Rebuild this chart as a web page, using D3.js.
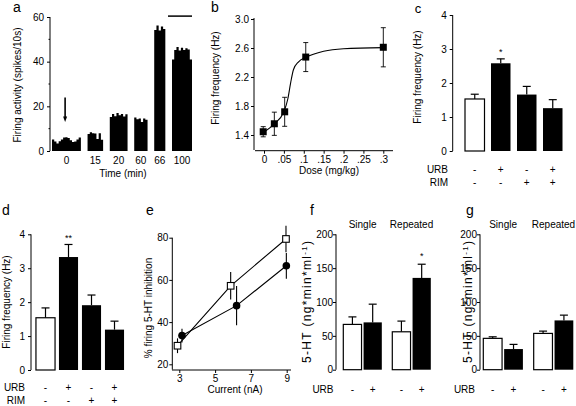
<!DOCTYPE html>
<html><head><meta charset="utf-8">
<script src="https://cdn.jsdelivr.net/npm/d3@7"></script>
<style>
body{margin:0;background:#fff}
svg{display:block}
text{font-family:"Liberation Sans",Arial,Helvetica,sans-serif;fill:#000}
</style>
</head><body><script>
// ---------------- DATA ----------------
// panel a: firing-rate histograms (spikes/10s), one array per time point
const aGroupLabels = ["0","15","20","60","66","100"];
const aBins0   = [5.2,4.2,3.4,4.4,5.2,6.0,6.2,5.8,4.8,4.0,4.2,5.2,6.0];
const aBins15  = [7.6,8.4,8.0,7.8,5.4,8.0,5.0];
const aBins20  = [15.2,16.6,15.6,17.0,16.0,16.6,15.4,16.4];
const aBins60  = [15.0,14.2,14.6,13.0,14.6,14.0];
const aBins66  = [54.2,56.2,54.0,55.8,54.6];
const aBins100 = [41.0,45.2,46.6,45.0,46.2,45.2,46.0,45.4,41.0];
const aYTicks = [0,20,40,60];
const aYMinor = [10,30,50];

// panel b: dose-response
const bDose  = [-0.002,0.026,0.052,0.105,0.3];
const bMean  = [1.445,1.555,1.72,2.475,2.61];
const bErr   = [0.07,0.16,0.2,0.2,0.27];
const bFitDose = [0,0.025,0.05,0.06,0.067,0.074,0.087,0.105,0.15,0.2,0.3];
const bFitVal  = [1.44,1.55,1.72,1.9,2.12,2.3,2.41,2.47,2.555,2.59,2.605];
const bXTicks = [0,0.05,0.1,0.15,0.2,0.25,0.3];
const bXTickLabels = ["0",".05",".1",".15",".2",".25",".3"];
const bYTicks = [1.4,1.8,2.2,2.6,3.0];

// panel c
const cMean = [1.53,2.58,1.66,1.26];
const cErr  = [0.14,0.13,0.24,0.25];
const cURB  = ["-","+","-","+"];
const cRIM  = ["-","-","+","+"];
const cFill = ["white","black","black","black"];
const cSig  = ["","*","",""];

// panel d
const dMean = [1.54,3.33,1.91,1.19];
const dErr  = [0.29,0.37,0.30,0.25];
const dURB  = ["-","+","-","+"];
const dRIM  = ["-","-","+","+"];
const dFill = ["white","black","black","black"];
const dSig  = ["","**","",""];

// panel e
const eSqX = [2.9,5.87,8.96],  eSqY = [28.8,57.2,79.4], eSqErr = [3.5,6.5,6.3];
const eCiX = [3.15,6.2,8.98],  eCiY = [33.6,47.8,66.7], eCiErr = [3.3,9.3,6.1];
const eXTicks = [3,5,7,9];
const eYTicks = [20,40,60,80];

// panel f / g
const fgGroups = ["Single","Repeated"];
const fgURB = ["-","+"];
const fMean = [[66.9,69.9],[56.0,135.6]];
const fErr  = [[11.1,26.9],[15.8,20.2]];
const fSig  = [["",""],["","*"]];
const gMean = [[46.3,30.5],[53.6,72.8]];
const gErr  = [[2.3,6.9],[3.4,7.8]];
const fgYTicks = [0,50,100,150,200];

// ---------------- DRAW ----------------
const svg = d3.select("body").append("svg").attr("width",576).attr("height",406);
const FS = 10;
function txt(g,x,y,s,anchor="middle",size=FS){
  return g.append("text").attr("x",x).attr("y",y).attr("text-anchor",anchor)
    .style("font-size",size+"px").text(s);
}
function rtxt(g,x,y,s,size=FS,len=null){
  const t = g.append("text").attr("transform",`translate(${x},${y}) rotate(-90)`)
    .attr("text-anchor","middle").style("font-size",size+"px").text(s);
  if(len) t.attr("textLength",len).attr("lengthAdjust","spacing");
  return t;
}
function vline(g,x,y1,y2,w=1){g.append("line").attr("x1",x).attr("x2",x).attr("y1",y1).attr("y2",y2).attr("stroke","#000").attr("stroke-width",w);}
function hline(g,x1,x2,y,w=1){g.append("line").attr("x1",x1).attr("x2",x2).attr("y1",y).attr("y2",y).attr("stroke","#000").attr("stroke-width",w);}
function styleAxis(ax){
  ax.select(".domain").remove();
  ax.selectAll("line").attr("stroke","#000");
  ax.selectAll("text").style("font-size",FS+"px").attr("fill","#000");
}
function leftAxis(g,x,scale,ticks,fmt,pad=2){
  const ax = g.append("g").attr("transform",`translate(${x},0)`)
    .call(d3.axisLeft(scale).tickValues(ticks).tickFormat(fmt).tickSize(3).tickPadding(pad));
  styleAxis(ax);
  return ax;
}
function bottomAxis(g,y,scale,ticks,fmt){
  const ax = g.append("g").attr("transform",`translate(0,${y})`)
    .call(d3.axisBottom(scale).tickValues(ticks).tickFormat(fmt).tickSize(3).tickPadding(2));
  styleAxis(ax);
  return ax;
}

// ===== Panel a =====
(function(){
  const g = svg.append("g");
  const groups = [aBins0,aBins15,aBins20,aBins60,aBins66,aBins100];
  const gap = 3; const starts=[]; let acc=0;
  groups.forEach(b=>{starts.push(acc); acc+=b.length+gap;});
  const total = acc-gap;
  const x = d3.scaleLinear().domain([0,total]).range([52,192]);
  const y = d3.scaleLinear().domain([0,60]).range([151,17]);
  const area = d3.area().curve(d3.curveStepAfter).x(d=>x(d[0])).y0(y(0)).y1(d=>y(d[1]));
  groups.forEach((b,i)=>{
    const pts = b.map((v,j)=>[starts[i]+j,v]); pts.push([starts[i]+b.length,b[b.length-1]]);
    g.append("path").attr("d",area(pts)).attr("fill","#000");
    txt(g,x(starts[i]+b.length/2),164,aGroupLabels[i]);
  });
  leftAxis(g,50,y,aYTicks,d3.format("d"),3);
  aYMinor.forEach(v=>hline(g,48.5,50,y(v)));
  vline(g,50,y(60),y(0));
  // arrow (drug injection)
  const ax = x(starts[0]+5.9);
  vline(g,ax,y(24),y(15),1.6);
  g.append("path").attr("d",`M${ax-2},${y(15.5)} L${ax+2},${y(15.5)} L${ax},${y(13)} Z`).attr("fill","#000");
  // horizontal bar
  hline(g,x(52.2),x(total),y(60.4),1.5);
  txt(g,123,177,"Time (min)");
  rtxt(g,21,85,"Firing activity (spikes/10s)");
  txt(g,17,12,"a","middle",14);
})();

// ===== Panel b =====
(function(){
  const g = svg.append("g");
  const x = d3.scaleLinear().domain([0,0.3]).range([264,383.3]);
  const y = d3.scaleLinear().domain([1.4,3.0]).range([135,19]);
  leftAxis(g,254,y,bYTicks,d3.format(".1f"));
  vline(g,254,18,150);
  bottomAxis(g,150.7,x,bXTicks,(d,i)=>bXTickLabels[i]);
  hline(g,255,393,150.7);
  const line = d3.line().curve(d3.curveMonotoneX).x((d,i)=>x(bFitDose[i])).y(d=>y(d));
  g.append("path").attr("d",line(bFitVal)).attr("fill","none").attr("stroke","#000").attr("stroke-width",1.1);
  bDose.forEach((d,i)=>{
    const cx=x(d);
    vline(g,cx,y(bMean[i]+bErr[i]),y(bMean[i]-bErr[i]),0.9);
    hline(g,cx-2.5,cx+2.5,y(bMean[i]+bErr[i]),0.9);
    hline(g,cx-2.5,cx+2.5,y(bMean[i]-bErr[i]),0.9);
    g.append("rect").attr("x",cx-3.5).attr("y",y(bMean[i])-3.5).attr("width",7).attr("height",7).attr("fill","#000");
  });
  txt(g,329,174,"Dose (mg/kg)");
  rtxt(g,219,78,"Firing frequency (Hz)");
  txt(g,215,12,"b","middle",14);
})();

// bar panel helper (c, d)
function barPanel(opts){
  const g = svg.append("g");
  const y = d3.scaleLinear().domain([0,4]).range([opts.y0,opts.y4]);
  const x = d3.scaleBand().domain(d3.range(opts.mean.length)).range(opts.xr).paddingInner(opts.pad).paddingOuter(opts.pad/2);
  leftAxis(g,opts.ax,y,[0,1,2,3,4],d3.format("d"),3);
  vline(g,opts.ax,y(4),y(0));
  opts.mean.forEach((m,i)=>{
    const bx=x(i), bw=x.bandwidth(), cx=bx+bw/2;
    const top=y(m+opts.err[i]);
    vline(g,cx,y(m),top,1.2);
    hline(g,cx-4,cx+4,top,1.2);
    g.append("rect").attr("x",bx).attr("y",y(m)).attr("width",bw).attr("height",y(0)-y(m))
      .attr("fill",opts.fill[i]).attr("stroke","#000").attr("stroke-width",opts.fill[i]==="white"?1.2:0);
    if(opts.sig[i]) txt(g,cx,top-3.5,opts.sig[i],"middle",9);
    txt(g,cx,opts.rowY[0],opts.urb[i]);
    txt(g,cx,opts.rowY[1],opts.rim[i]);
  });
  txt(g,opts.lblX,opts.rowY[0],"URB","end");
  txt(g,opts.lblX,opts.rowY[1],"RIM","end");
  rtxt(g,opts.ylx,opts.yly,"Firing frequency (Hz)");
  txt(g,opts.letter[1],opts.letter[2],opts.letter[0],"middle",opts.letter[3]);
}
barPanel({mean:cMean,err:cErr,fill:cFill,sig:cSig,urb:cURB,rim:cRIM,y0:151,y4:15,ax:452.7,
  xr:[461.75,565.75],pad:0.25,rowY:[172.5,185.5],lblX:448,ylx:421,yly:77,letter:["c",418,13,13]});
barPanel({mean:dMean,err:dErr,fill:dFill,sig:dSig,urb:dURB,rim:dRIM,y0:370,y4:234.3,ax:31,
  xr:[34,126],pad:0.17,rowY:[391,403.5],lblX:25,ylx:10,yly:302,letter:["d",6,215,14]});

// ===== Panel e =====
(function(){
  const g = svg.append("g");
  const x = d3.scaleLinear().domain([3,9]).range([179.3,286.7]);
  const y = d3.scaleLinear().domain([20,80]).range([364.3,237.7]);
  leftAxis(g,172.3,y,eYTicks,d3.format("d"),1);
  vline(g,172.3,y(80),y(17.5));
  bottomAxis(g,370,x,eXTicks,d3.format("d"));
  hline(g,172,291,370);
  const line = d3.line().x(d=>x(d[0])).y(d=>y(d[1]));
  g.append("path").attr("d",line(eCiX.map((v,i)=>[v,eCiY[i]]))).attr("fill","none").attr("stroke","#000").attr("stroke-width",1.1);
  g.append("path").attr("d",line(eSqX.map((v,i)=>[v,eSqY[i]]))).attr("fill","none").attr("stroke","#000").attr("stroke-width",1.1);
  eCiX.forEach((v,i)=>{
    vline(g,x(v),y(eCiY[i]+eCiErr[i]),y(eCiY[i]-eCiErr[i]),1.1);
    g.append("circle").attr("cx",x(v)).attr("cy",y(eCiY[i])).attr("r",3.8).attr("fill","#000");
  });
  eSqX.forEach((v,i)=>{
    vline(g,x(v),y(eSqY[i]+eSqErr[i]),y(eSqY[i]-eSqErr[i]),1.1);
    g.append("rect").attr("x",x(v)-3.3).attr("y",y(eSqY[i])-3.3).attr("width",6.6).attr("height",6.6)
      .attr("fill","#fff").attr("stroke","#000").attr("stroke-width",1.1);
  });
  txt(g,235,393,"Current (nA)");
  rtxt(g,151.5,308,"% firing 5-HT inhibition");
  txt(g,150,215,"e","middle",14);
})();

// ===== Panels f, g =====
function fgPanel(opts){
  const g = svg.append("g");
  const y = d3.scaleLinear().domain([0,200]).range([369.7,234.3]);
  const xo = d3.scaleBand().domain(fgGroups).range(opts.xr).paddingInner(0.214).paddingOuter(0);
  const xi = d3.scaleBand().domain(fgURB).range([0,xo.bandwidth()]).paddingInner(0.1).paddingOuter(0);
  leftAxis(g,opts.ax,y,fgYTicks,d3.format("d"),0);
  vline(g,opts.ax,y(200),y(0));
  fgGroups.forEach((grp,gi)=>{
    txt(g,xo(grp)+xo.bandwidth()/2,227.5,grp);
    fgURB.forEach((u,ui)=>{
      const m=opts.mean[gi][ui], e=opts.err[gi][ui];
      const bx=xo(grp)+xi(u), bw=xi.bandwidth(), cx=bx+bw/2, top=y(m+e);
      vline(g,cx,y(m),top,1.2);
      hline(g,cx-4,cx+4,top,1.2);
      const white = u==="-";
      g.append("rect").attr("x",bx).attr("y",y(m)).attr("width",bw).attr("height",y(0)-y(m))
        .attr("fill",white?"white":"black").attr("stroke","#000").attr("stroke-width",white?1.2:0);
      if(opts.sig && opts.sig[gi][ui]) txt(g,cx,top-5,opts.sig[gi][ui],"middle",9);
      txt(g,cx,392.5,u);
    });
  });
  txt(g,opts.lblX,392.5,"URB","end");
  const t = g.append("text").attr("transform",`translate(${opts.ylx},302) rotate(-90)`)
    .attr("text-anchor","middle").style("font-size","12px")
    .attr("textLength",122).attr("lengthAdjust","spacing");
  t.append("tspan").text("5-HT (ng*min*ml");
  t.append("tspan").attr("dy",-4).style("font-size","8px").text("-1");
  t.append("tspan").attr("dy",4).text(")");
  txt(g,opts.letter[1],215,opts.letter[0],"middle",14);
}
fgPanel({mean:fMean,err:fErr,sig:fSig,xr:[343.3,430.8],ax:336,lblX:333.5,ylx:311,letter:["f",312]});
fgPanel({mean:gMean,err:gErr,sig:null,xr:[483.3,573.3],ax:480,lblX:475,ylx:472,letter:["g",470]});
</script></body></html>
